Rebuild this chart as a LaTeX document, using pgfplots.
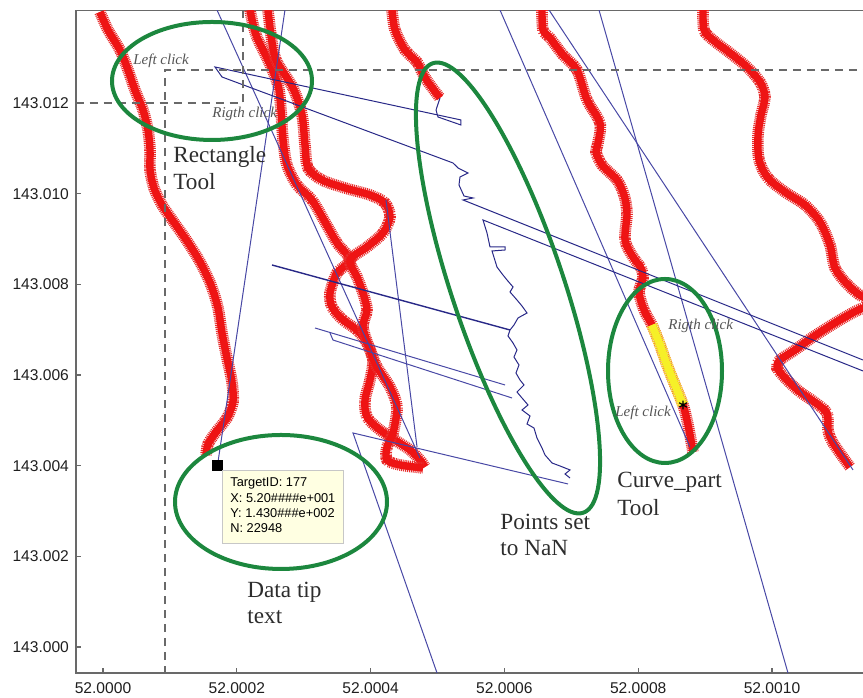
\documentclass[border=0pt]{standalone}
\usepackage{fontspec}
\setmainfont{Liberation Serif}
\newfontfamily\arial{Liberation Sans}
\usepackage{pgfplots}
\pgfplotsset{compat=1.18}

\definecolor{trackred}{RGB}{238,20,20}
\definecolor{trackfringe}{RGB}{232,45,45}
\definecolor{linkblue}{RGB}{72,72,165}
\definecolor{linkdark}{RGB}{40,40,135}
\definecolor{toolgreen}{RGB}{28,135,62}
\definecolor{framegray}{RGB}{105,105,105}
\definecolor{notegray}{RGB}{85,85,85}
\definecolor{labelgray}{RGB}{45,45,45}
\definecolor{tipfill}{RGB}{255,255,226}
\definecolor{picked}{RGB}{246,240,40}

% a dense run of + markers: a solid core with short cross strokes around it
\tikzset{
  fringe/.style={preaction={draw=#1, line width=5.8pt, dash pattern=on 0.5pt off 0.45pt}},
}

\begin{document}
\begin{tikzpicture}
\begin{axis}[
  scale only axis, width=395pt, height=331.15pt,
  xmin=-0.4036, xmax=11.405, ymin=-0.5736, ymax=14.037,
  xtick={0,2,4,6,8,10},
  xticklabels={52.0000,52.0002,52.0004,52.0006,52.0008,52.0010},
  ytick={0,2,4,6,8,10,12},
  yticklabels={143.000,143.002,143.004,143.006,143.008,143.010,143.012},
  tick pos=left, tick align=inside, major tick length=2.6pt,
  tick style={framegray, line width=0.6pt},
  axis line style={framegray, line width=0.7pt},
  ticklabel style={font=\arial\fontsize{7.8}{9}\selectfont, text=black!88},
  xticklabel style={yshift=-1.2pt},
  clip=true,
]
% tracks recorded with + markers
\addplot[trackred, line width=3.7pt, smooth, tension=0.5, fringe=trackfringe] coordinates {
(-0.045,14.008) (0.075,13.611) (0.254,13.170) (0.374,12.729) (0.478,12.287) (0.598,11.846) (0.673,11.405) (0.703,10.964) (0.703,10.523) (0.762,10.126) (0.882,9.751) (1.046,9.398) (1.256,8.956) (1.450,8.493) (1.614,7.986) (1.719,7.478) (1.779,6.927) (1.853,6.375) (1.928,5.846) (1.943,5.405) (1.853,5.052) (1.689,4.743) (1.570,4.478) (1.540,4.236)};
\addplot[trackred, line width=3.7pt, smooth, tension=0.5, fringe=trackfringe] coordinates {
(2.197,14.052) (2.287,13.501) (2.466,12.949) (2.616,12.398) (2.661,11.846) (2.691,11.184) (2.750,10.633) (2.900,10.192) (3.124,9.861) (3.318,9.376) (3.498,8.912) (3.692,8.537) (3.498,8.250) (3.393,7.809) (3.423,7.500) (3.587,7.214) (3.797,6.993) (3.946,6.706) (4.036,6.331) (3.991,5.890) (3.916,5.449) (3.946,5.074) (4.141,4.787) (4.365,4.566) (4.589,4.346) (4.738,4.125) (4.813,3.971)};
\addplot[trackred, line width=3.7pt, smooth, tension=0.5, fringe=trackfringe] coordinates {
(2.466,14.052) (2.511,13.501) (2.586,12.949) (2.840,12.332) (2.975,11.736) (3.019,11.074) (3.064,10.567) (3.274,10.302) (3.617,10.126) (3.991,9.971) (4.215,9.795) (4.290,9.486) (4.185,9.133) (3.946,8.824) (3.692,8.537) (3.797,8.162) (3.886,7.809) (3.946,7.434) (3.886,7.059) (3.991,6.552) (4.096,6.177) (4.290,5.736) (4.395,5.294) (4.335,4.721) (4.245,4.412) (4.245,4.125) (4.439,4.015) (4.783,3.949)};
\addplot[trackred, line width=3.7pt, smooth, tension=0.5, fringe=trackfringe] coordinates {
(4.320,14.052) (4.365,13.611) (4.514,13.170) (4.694,12.905) (4.768,12.685) (4.858,12.464) (5.037,12.111)};
\addplot[trackred, line width=3.7pt, smooth, tension=0.5, fringe=trackfringe] coordinates {
(6.562,14.052) (6.577,13.611) (6.682,13.435) (6.876,13.060) (7.085,12.729) (7.235,12.067) (7.429,11.559) (7.399,11.118) (7.369,10.920) (7.459,10.633) (7.683,10.302) (7.788,9.971) (7.833,9.574) (7.803,8.978) (7.922,8.603) (8.042,8.361) (8.072,8.140) (8.012,7.831) (8.087,7.434) (8.206,7.103) (8.326,6.662) (8.431,6.221) (8.550,5.780) (8.670,5.339) (8.729,5.008) (8.774,4.677) (8.819,4.302)};
\addplot[trackred, line width=3.7pt, smooth, tension=0.5, fringe=trackfringe] coordinates {
(8.969,14.052) (8.984,13.611) (9.118,13.390) (9.372,13.104) (9.626,12.795) (9.821,12.464) (9.895,12.133) (9.836,11.736) (9.791,11.295) (9.806,10.743) (9.940,10.346) (10.194,10.037) (10.493,9.751) (10.717,9.376) (10.867,8.868) (10.942,8.361) (11.136,7.986) (11.360,7.721) (11.700,7.560) (11.360,7.478) (11.016,7.214) (10.613,6.839) (10.344,6.552) (10.120,6.331) (10.075,6.155) (10.224,5.890) (10.419,5.625) (10.613,5.427) (10.822,5.162) (10.837,4.787) (10.912,4.500) (11.166,3.971)};
% part of a track picked with the curve tool
\addplot[picked, line width=3.8pt, smooth, fringe=picked!85!orange] coordinates {
(8.206,7.103) (8.326,6.662) (8.431,6.221) (8.550,5.780) (8.670,5.339)};
% connecting lines
\addplot[linkblue, line width=0.5pt] coordinates {(1.704,14.052) (4.738,4.169)};
\addplot[linkblue, line width=0.5pt] coordinates {(2.720,14.052) (1.719,4.081)};
\addplot[linkblue, line width=0.5pt] coordinates {(4.230,9.861) (4.694,4.412)};
\addplot[linkdark, line width=0.7pt] coordinates {(2.526,8.427) (6.084,6.993)};
\addplot[linkblue, line width=0.5pt] coordinates {(3.169,7.037) (6.009,5.780)};
\addplot[linkblue, line width=0.5pt] coordinates {(3.393,6.927) (3.438,6.772) (6.114,5.493)};
\addplot[linkblue, line width=0.5pt] coordinates {(4.993,-0.574) (3.737,4.721) (6.951,3.596)};
\addplot[linkblue, line width=0.5pt] coordinates {(5.934,14.052) (8.774,4.412)};
\addplot[linkblue, line width=0.5pt] coordinates {(6.667,14.052) (11.211,3.905)};
\addplot[linkblue, line width=0.5pt] coordinates {(7.414,14.052) (10.239,-0.574)};
% points set to NaN
\addplot[linkdark, line width=0.5pt] coordinates {
(5.037,12.111) (4.978,11.846) (5.007,11.692) (5.351,11.515) (5.351,11.626) (1.674,12.795) (1.779,12.574) (5.232,10.677) (5.307,10.567) (5.456,10.456) (5.336,10.368) (5.321,10.192) (5.396,9.949) (5.531,9.905) (5.381,9.861) (11.360,6.331)};
\addplot[linkdark, line width=0.5pt] coordinates {
(11.360,6.089) (5.680,9.420) (5.740,9.133) (5.785,8.824) (6.009,8.824) (6.009,8.758) (5.815,8.736) (5.889,8.383) (5.979,8.206) (6.039,8.096) (6.129,7.942) (6.084,7.831) (6.188,7.655) (6.263,7.522) (6.338,7.368) (6.203,7.258) (6.143,7.103) (6.084,6.993) (6.054,6.861) (6.129,6.706) (6.188,6.552) (6.143,6.397) (6.218,6.221) (6.173,6.044) (6.233,5.890) (6.293,5.780) (6.188,5.625) (6.263,5.493) (6.353,5.339) (6.263,5.228) (6.383,5.096) (6.338,4.919) (6.442,4.831) (6.487,4.611) (6.562,4.390) (6.607,4.236) (6.712,4.059) (6.831,3.993) (6.981,3.905) (6.906,3.816) (6.981,3.728)};
% rectangle tool cross-hairs
\addplot[framegray, line width=0.55pt, dash pattern=on 4pt off 3pt] coordinates {(0.927,-0.6) (0.927,12.729) (11.5,12.729)};
\addplot[framegray, line width=0.55pt, dash pattern=on 4pt off 3pt] coordinates {(-0.41,12.001) (2.093,12.001) (2.093,14.1)};
% data tip and picked point
\addplot[only marks, mark=square*, mark size=2.5pt, black] coordinates {(1.704,4.015)};
\addplot[only marks, mark=asterisk, mark size=2.2pt, black, line width=0.6pt] coordinates {(8.670,5.339)};
\coordinate (sw) at (rel axis cs:0,0);
\coordinate (nw) at (rel axis cs:0,1);
\end{axis}
\coordinate (org) at ([xshift=-38pt,yshift=5.35pt]nw);
\begin{scope}[shift={(org)}, x=0.5pt, y=-0.5pt]
  % tool outlines
  \draw[toolgreen, line width=2pt] (212,81) ellipse [x radius=50pt, y radius=29.5pt];
  \draw[toolgreen, line width=2pt, rotate around={18.5:(508,288)}] (508,288) ellipse [x radius=28pt, y radius=118.5pt];
  \draw[toolgreen, line width=2pt] (281,502) ellipse [x radius=53pt, y radius=33.5pt];
  \draw[toolgreen, line width=2pt] (665,371) ellipse [x radius=28.5pt, y radius=46pt];
  % data tip box
  \draw[black!22, fill=tipfill, line width=0.4pt] (222,470) rectangle (343,543);
  \begin{scope}[every node/.style={anchor=base west, inner sep=0pt, font=\arial\fontsize{6.4}{7.5}\selectfont}]
    \node at (230,487) {TargetID: 177};
    \node at (230,503) {X: 5.20\#\#\#\#e+001};
    \node at (230,518) {Y: 1.430\#\#\#e+002};
    \node at (230,533) {N: 22948};
  \end{scope}
  % notes
  \begin{scope}[every node/.style={anchor=base west, inner sep=0pt, text=notegray, font=\itshape\fontsize{7.5}{9}\selectfont}]
    \node at (133,65) {Left click};
    \node at (212,118) {Rigth click};
    \node at (668,330) {Rigth click};
    \node at (615,417) {Left click};
  \end{scope}
  \begin{scope}[every node/.style={anchor=base west, inner sep=0pt, text=labelgray, font=\fontsize{11.6}{13}\selectfont}]
    \node at (173,163) {Rectangle};
    \node at (173,190) {Tool};
    \node at (247,598) {Data tip};
    \node at (247,624) {text};
    \node at (500,530) {Points set};
    \node at (500,556) {to NaN};
    \node at (617,488) {Curve\_part};
    \node at (617,516) {Tool};
  \end{scope}
\end{scope}
\pgfresetboundingbox
\path[use as bounding box] ([xshift=-38pt,yshift=-12.5pt]sw) rectangle ([xshift=393.5pt,yshift=5.35pt]nw);
\end{tikzpicture}
\end{document}
